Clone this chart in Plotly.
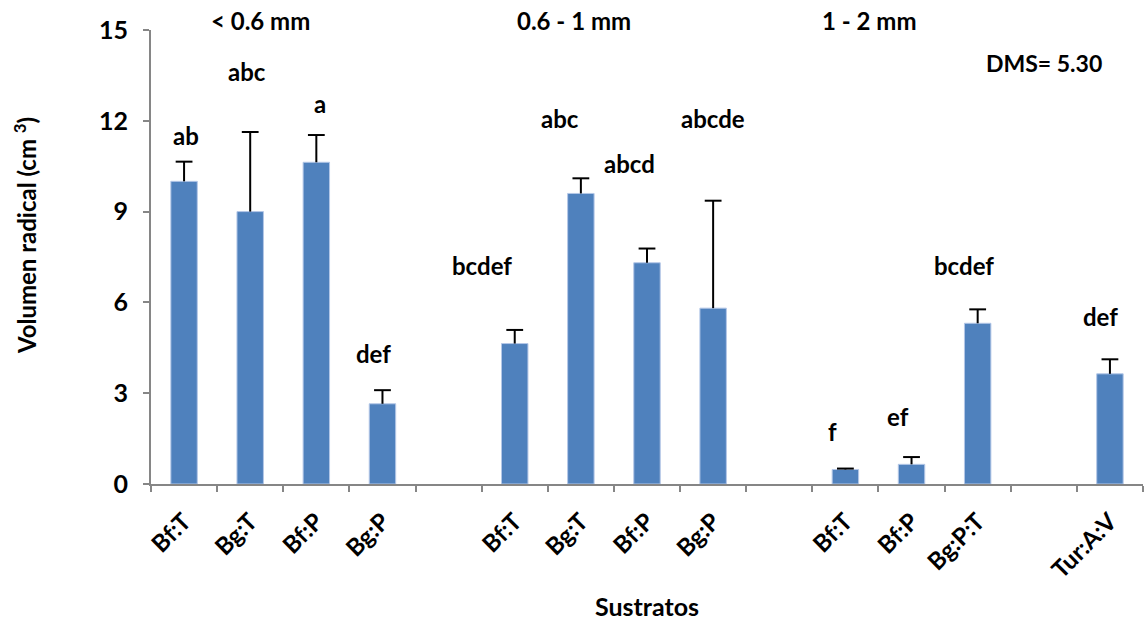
import plotly.graph_objects as go

# ---- data ----
tick_labels = ["Bf:T", "Bg:T", "Bf:P", "Bg:P", "", "Bf:T", "Bg:T", "Bf:P", "Bg:P", "",
               "Bf:T", "Bf:P", "Bg:P:T", "", "Tur:A:V"]
volumen = [10.0, 9.0, 10.63, 2.65, None, 4.64, 9.6, 7.31, 5.81, None,
           0.48, 0.65, 5.31, None, 3.64]
error_plus = [0.65, 2.63, 0.9, 0.45, None, 0.45, 0.5, 0.47, 3.55, None,
              0.03, 0.24, 0.46, None, 0.48]
letters = ["ab", "abc", "a", "def", "", "bcdef", "abc", "abcd", "abcde", "",
           "f", "ef", "bcdef", "", "def"]
letter_y = [11.53, 13.62, 12.58, 4.32, None, 7.21, 12.08, 10.59, 12.08, None,
            1.73, 2.22, 7.23, None, 5.53]
letter_dx = [0.03, -0.05, 0.05, -0.14, 0, -0.49, -0.32, -0.26, 0.0, 0,
             -0.19, -0.2, -0.21, 0, -0.15]
groups = ["< 0.6 mm", "0.6 - 1 mm", "1 - 2 mm"]
group_x = [1.16, 5.9, 10.37]
group_y = 15.33
dms_text = "DMS= 5.30"
dms_pos = (13.0, 13.91)
y_ticks = [0, 3, 6, 9, 12, 15]
y_max = 15

FONT = "Lato"
BAR = "#4F81BD"
AX = "#868686"

x = list(range(len(tick_labels)))
tops = [v + e if v is not None else None for v, e in zip(volumen, error_plus)]

fig = go.Figure()
fig.add_trace(go.Bar(
    x=x, y=volumen,
    marker=dict(color=BAR, line=dict(color="#B4C7E7", width=1)),
    width=0.4,
))
# error bars: stem from the bar top up to value + error, with a cap at the top only
fig.add_trace(go.Scatter(
    x=x, y=tops, mode="markers",
    marker=dict(symbol="line-ew", size=12, color="black",
                line=dict(color="black", width=2)),
    error_y=dict(type="data", symmetric=False, array=[0] * len(x),
                 arrayminus=error_plus, color="black", thickness=2, width=0),
    hoverinfo="skip",
))

label_pos = [i for i, t in enumerate(tick_labels) if t]
fig.update_layout(
    width=1145, height=624,
    margin=dict(l=151, r=2, t=30, b=140),
    plot_bgcolor="white", paper_bgcolor="white",
    showlegend=False,
    font=dict(family=FONT, size=22, color="black"),
    xaxis=dict(
        range=[-0.5, len(x) - 0.5],
        tickmode="array", tickvals=label_pos,
        ticktext=["<b>%s</b>" % tick_labels[i] for i in label_pos],
        tickangle=-45, ticks="", ticklabelstandoff=12,
        tickfont=dict(family=FONT, size=24, color="black"),
        showline=True, linecolor=AX, linewidth=2,
        showgrid=False, zeroline=False,
        minor=dict(tickvals=[i - 0.5 for i in range(len(x) + 1)],
                   ticks="outside", ticklen=6, tickcolor=AX, tickwidth=2,
                   showgrid=False),
        title=dict(text="<b>Sustratos</b>", font=dict(family=FONT, size=25),
                   standoff=16),
    ),
    yaxis=dict(
        range=[0, y_max], tickmode="array", tickvals=y_ticks,
        ticktext=["<b>%d</b>" % v for v in y_ticks],
        ticks="outside", ticklen=6, tickcolor=AX, tickwidth=2,
        ticklabelstandoff=10,
        tickfont=dict(family=FONT, size=25, color="black"),
        showline=True, linecolor=AX, linewidth=2,
        showgrid=False, zeroline=False,
    ),
)

# y-axis title
fig.add_annotation(x=0, y=0.546, xref="paper", yref="paper", xshift=-126,
                   text="<b>Volumen radical (cm <sup>3</sup>)</b>", textangle=-90,
                   showarrow=False, xanchor="center", yanchor="middle",
                   font=dict(family=FONT, size=24, color="black"))

for i, t in enumerate(letters):
    if t:
        fig.add_annotation(x=i + letter_dx[i], y=letter_y[i], text="<b>%s</b>" % t,
                           showarrow=False, xref="x", yref="y",
                           xanchor="center", yanchor="middle",
                           font=dict(family=FONT, size=24, color="black"))

for g, gx in zip(groups, group_x):
    fig.add_annotation(x=gx, y=group_y / y_max, text="<b>%s</b>" % g, showarrow=False,
                       xref="x", yref="paper", xanchor="center", yanchor="middle",
                       font=dict(family=FONT, size=24, color="black"))

fig.add_annotation(x=dms_pos[0], y=dms_pos[1], text="<b>%s</b>" % dms_text,
                   showarrow=False, xref="x", yref="y",
                   xanchor="center", yanchor="middle",
                   font=dict(family=FONT, size=23, color="black"))

fig.write_html("out.html")
